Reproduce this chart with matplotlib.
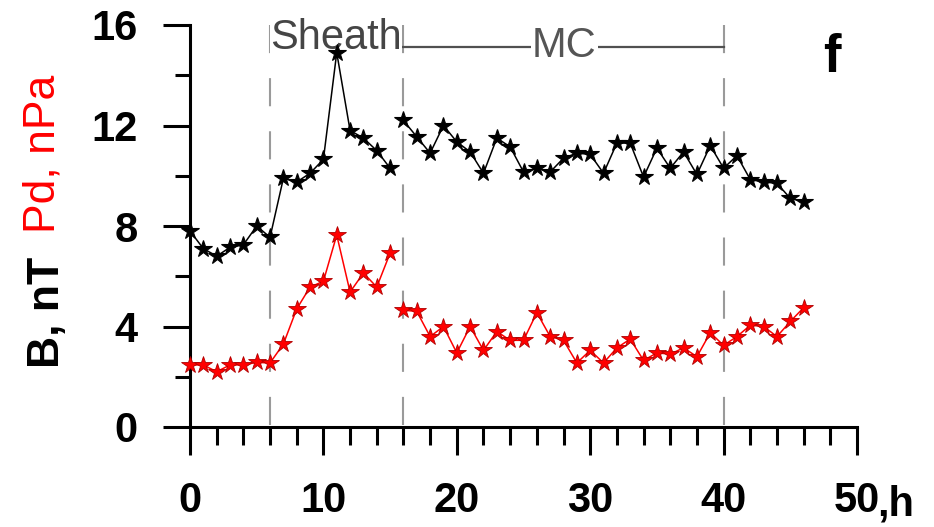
import numpy as np
import matplotlib
matplotlib.use("Agg")
import matplotlib.pyplot as plt
from matplotlib.ticker import MultipleLocator, FixedLocator

plt.rcParams["font.family"] = ["Liberation Sans", "DejaVu Sans"]

# hours (before and after the gap between sheath and MC)
hours_a = list(range(0, 16))
hours_b = list(range(16, 47))

# magnetic field B, nT
b_a = [7.8, 7.1, 6.8, 7.15, 7.25, 8.0, 7.55, 9.9, 9.75, 10.1, 10.65, 14.9,
       11.8, 11.5, 11.0, 10.3]
b_b = [12.2, 11.55, 10.9, 12.0, 11.35, 10.95, 10.1, 11.5, 11.15, 10.15, 10.3,
       10.15, 10.7, 10.9, 10.85, 10.1, 11.3, 11.3, 9.95, 11.1, 10.3, 10.95,
       10.05, 11.2, 10.3, 10.8, 9.85, 9.75, 9.7, 9.1, 8.97]

# dynamic pressure Pd, nPa
pd_a = [2.47, 2.47, 2.2, 2.47, 2.47, 2.57, 2.55, 3.3, 4.7, 5.57, 5.8, 7.64,
        5.37, 6.13, 5.57, 6.92]
pd_b = [4.65, 4.6, 3.6, 4.0, 2.95, 4.0, 3.05, 3.8, 3.45, 3.45, 4.55, 3.6,
        3.45, 2.55, 3.05, 2.55, 3.15, 3.5, 2.65, 2.95, 2.9, 3.15, 2.8, 3.75,
        3.25, 3.6, 4.05, 4.0, 3.6, 4.2, 4.75]

boundaries = [6, 16, 40]
x_ticks = [0, 10, 20, 30, 40, 50]
x_labels = ["0", "10", "20", "30", "40", "50"]
y_ticks = [0, 4, 8, 12, 16]

fig = plt.figure(figsize=(9.34, 5.27), dpi=100)
ax = fig.add_axes([190 / 934, 1 - 427 / 527, (857 - 190) / 934, (427 - 25) / 527])

# region boundaries
for xb in boundaries:
    ln, = ax.plot([xb, xb], [16, 0], color="#9a9a9a", lw=1.5, zorder=1)
    ln.set_dashes((13.5, 12))

# MC interval bar
ax.plot([16, 40], [15.12, 15.12], color="#505050", lw=1.6, zorder=1, clip_on=False)
ax.text(10.95, 15.48, "Sheath", fontsize=30, color="#454545", ha="center",
        va="center", zorder=2, bbox=dict(fc="white", ec="none", pad=0))
ax.text(28.07, 15.16, "MC", fontsize=30, color="#555555", ha="center",
        va="center", zorder=2, bbox=dict(fc="white", ec="none", pad=1))
ax.text(48.1, 14.7, "f", fontsize=38, fontweight="bold", ha="center",
        va="center", zorder=2)

for hrs, vals in [(hours_a, b_a), (hours_b, b_b)]:
    ax.plot(hrs, vals, color="black", lw=1.1, marker="*", ms=13,
            mfc="black", mec="black", mew=0.8, zorder=3, clip_on=False)
for hrs, vals in [(hours_a, pd_a), (hours_b, pd_b)]:
    ax.plot(hrs, vals, color="red", lw=1.1, marker="*", ms=13,
            mfc="red", mec="#b00000", mew=0.6, zorder=3, clip_on=False)

ax.set_xlim(0, 50)
ax.set_ylim(0, 16)
for s in ["top", "right"]:
    ax.spines[s].set_visible(False)
for s in ["left", "bottom"]:
    ax.spines[s].set_linewidth(2.2)

ax.xaxis.set_major_locator(FixedLocator(x_ticks))
ax.set_xticklabels(x_labels)
ax.xaxis.set_minor_locator(MultipleLocator(2))
ax.yaxis.set_major_locator(FixedLocator(y_ticks))
ax.yaxis.set_minor_locator(MultipleLocator(2))

ax.tick_params(axis="x", which="major", length=20, width=2.2, pad=19,
               labelsize=30)
ax.tick_params(axis="x", which="minor", length=13, width=2.2)
ax.tick_params(axis="y", which="major", length=19.5, width=2.2, pad=18,
               labelsize=30)
ax.tick_params(axis="y", which="minor", length=11, width=2.2)
for lab in ax.get_xticklabels() + ax.get_yticklabels():
    lab.set_fontweight("bold")

# unit after the last x tick label
ax.annotate(",h", xy=(50, 0), xycoords="data", xytext=(20, -58),
            textcoords="offset pixels", fontsize=30, fontweight="bold",
            ha="left", va="top")

# two-coloured y label
fig.text(47 / 934, 1 - 368 / 527, "B, nT", rotation=90, fontsize=32,
         fontweight="bold", color="black", ha="center", va="bottom")
fig.text(43 / 934, 1 - 233 / 527, "Pd, nPa", rotation=90, fontsize=32,
         color="red", ha="center", va="bottom")

plt.savefig("out.png", dpi=100)
